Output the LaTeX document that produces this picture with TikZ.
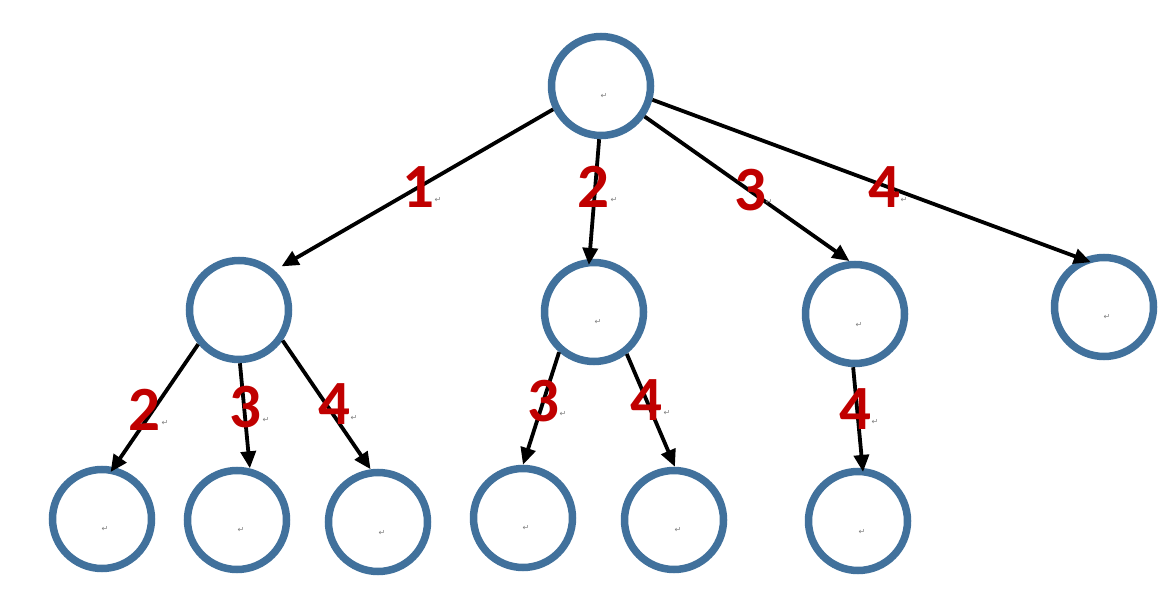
\documentclass[tikz,border=0pt]{standalone}
\usepackage{fontspec}
\setmainfont{Carlito}
\newfontfamily\retfont{DejaVu Sans}
\usetikzlibrary{arrows.meta}
\definecolor{nodeblue}{RGB}{65,113,156}
\definecolor{numred}{RGB}{192,0,0}
\tikzset{
  treenode/.style={circle, draw=nodeblue, line width=7.5pt, minimum size=99pt, inner sep=0pt},
  treearrow/.style={line width=3.8pt, -{Triangle[length=17pt,width=15pt]}},
  numlabel/.style={text=numred, font=\fontsize{63}{63}\selectfont\bfseries, inner sep=0pt},
  retmark/.style={text=gray, font=\retfont\fontsize{8}{8}\selectfont, inner sep=0pt}
}

\begin{document}
\begin{tikzpicture}[x=1pt,y=-1pt]
\useasboundingbox (0,0) rectangle (1175,601);
% circles
\node[treenode] (root) at (601,86) {};
\node[treenode] (a) at (239,310) {};
\node[treenode] (b) at (594,312) {};
\node[treenode] (c) at (855,314) {};
\node[treenode] (d) at (1104,307) {};
\node[treenode] (aa) at (102,519) {};
\node[treenode] (ab) at (237,520) {};
\node[treenode] (ac) at (378,522) {};
\node[treenode] (ba) at (523,518) {};
\node[treenode] (bb) at (674,520) {};
\node[treenode] (ca) at (858,521) {};
% return marks inside circles
\node[retmark] (rroot) at (604,96) {↵};
\node[retmark] (rb) at (598,322) {↵};
\node[retmark] (rc) at (859,325) {↵};
\node[retmark] (rd) at (1107,317) {↵};
\node[retmark] (raa) at (105,529) {↵};
\node[retmark] (rab) at (241,530) {↵};
\node[retmark] (rac) at (382,533) {↵};
\node[retmark] (rba) at (526,528) {↵};
\node[retmark] (rbb) at (678,530) {↵};
\node[retmark] (rca) at (862,532) {↵};
% arrows
\draw[treearrow, shorten >=8pt] (root.206) -- (a.48);
\draw[treearrow, shorten >=-6pt] (root.268) -- (b.95);
\draw[treearrow] (root.325) -- (c.96);
\draw[treearrow, shorten >=-10pt] (root.345) -- (d.115);
\draw[treearrow, shorten >=-6pt] (a.220) -- (aa.77);
\draw[treearrow] (a.271) -- (ab.76);
\draw[treearrow] (a.325) -- (ac.98);
\draw[treearrow] (b.229) -- (ba.90);
\draw[treearrow] (b.308) -- (bb.89);
\draw[treearrow, shorten >=-4pt] (c.268) -- (ca.85);
% edge numbers
\node[numlabel] (n1) at (418,187) {1};
\node[numlabel] (n2) at (593,187) {2};
\node[numlabel] (n3) at (750,190) {3};
\node[numlabel] (n4) at (884,187) {4};
\node[numlabel] (n5) at (144,410) {2};
\node[numlabel] (n6) at (245,407) {3};
\node[numlabel] (n7) at (334,404) {4};
\node[numlabel] (n8) at (543,401) {3};
\node[numlabel] (n9) at (646,400) {4};
\node[numlabel] (n10) at (855,409) {4};
\node[retmark] (r1) at (438,200) {↵};
\node[retmark] (r2) at (614,200) {↵};
\node[retmark] (r3) at (769,202) {↵};
\node[retmark] (r4) at (904,200) {↵};
\node[retmark] (r5) at (165,423) {↵};
\node[retmark] (r6) at (266,420) {↵};
\node[retmark] (r7) at (354,418) {↵};
\node[retmark] (r8) at (563,414) {↵};
\node[retmark] (r9) at (667,413) {↵};
\node[retmark] (r10) at (875,422) {↵};
\end{tikzpicture}
\end{document}
